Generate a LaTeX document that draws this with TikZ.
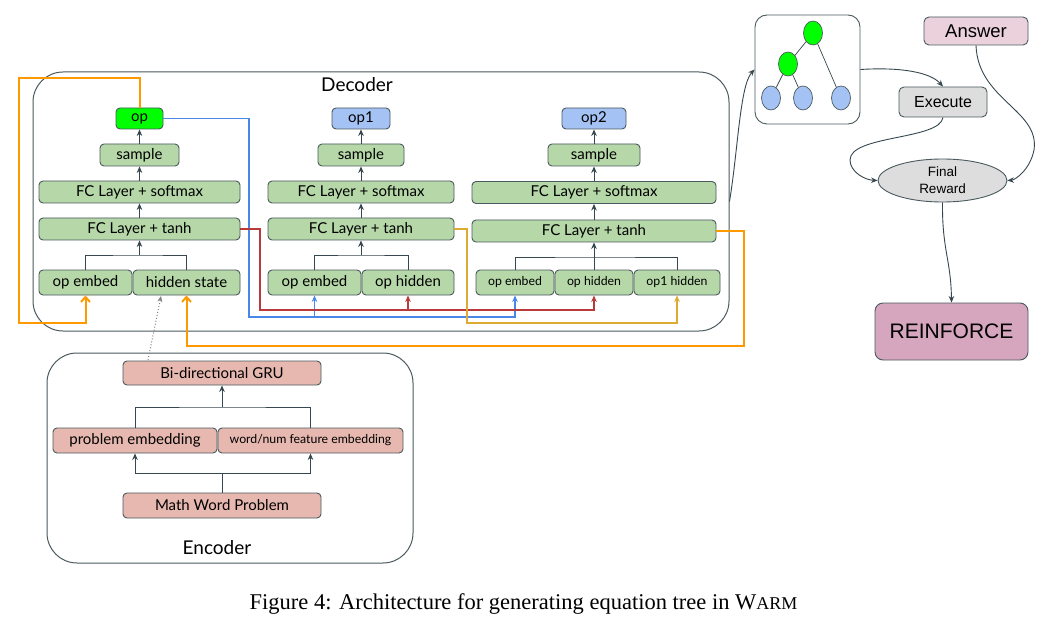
\documentclass[tikz,border=0pt]{standalone}
\usepackage{fontspec}
\setmainfont{Lato}
\newfontfamily\arialfont{Liberation Sans}
\newfontfamily\timesfont{Liberation Serif}
\usetikzlibrary{arrows.meta,shapes.geometric}

\definecolor{layergreen}{HTML}{B6D7A8}
\definecolor{encred}{HTML}{E6B8AF}
\definecolor{opblue}{HTML}{A4C2F4}
\definecolor{opgreen}{HTML}{00FF00}
\definecolor{edgec}{HTML}{4A5A5F}
\definecolor{arrowc}{HTML}{37474F}
\definecolor{lineorange}{HTML}{FF9900}
\definecolor{lineblue}{HTML}{4A86E8}
\definecolor{linered}{HTML}{B83A3A}
\definecolor{linegold}{HTML}{DDAA33}
\definecolor{answerpink}{HTML}{EAD1DC}
\definecolor{reinforcepink}{HTML}{D5A6BD}
\definecolor{execgray}{HTML}{DDDDDD}

\begin{document}
\begin{tikzpicture}[x=1pt, y=-1pt,
  sz/.style 2 args={minimum width=#1pt, minimum height=#2pt},
  layer/.style={draw=edgec, fill=layergreen, rounded corners=4pt, line width=0.9pt,
                inner sep=0pt, font=\fontsize{15}{17}\selectfont},
  small/.style={font=\fontsize{12.3}{14}\selectfont},
  enc/.style={layer, fill=encred},
  panel/.style={draw=edgec, rounded corners=30pt, line width=1pt},
  rbox/.style={draw=edgec, rounded corners=5pt, line width=0.9pt, inner sep=0pt,
               font=\arialfont\fontsize{16}{18}\selectfont},
  leaf/.style={draw=edgec, ellipse, line width=0.7pt, inner sep=0pt, sz={19}{24}},
  link/.style={draw=arrowc, line width=0.9pt},
  arr/.style={link, -{Stealth[length=6.5pt, width=5.5pt]}},
  bigarr/.style={draw=lineorange, line width=2pt, -{Straight Barb[length=5pt, width=9pt]}},
  thinarr/.style={line width=1.2pt, -{Stealth[length=6.5pt, width=5.5pt]}},
]
\path[fill=white, use as bounding box] (0,0) rectangle (1047,631);

% Decoder and encoder panels
\node[panel, sz={696}{259}] (dec) at (381,201.5) {};
\node[font=\fontsize{19}{21}\selectfont] (declbl) at (357,85) {Decoder};
\node[panel, sz={366}{210}] (encp) at (230,458) {};
\node[font=\fontsize{19}{21}\selectfont] (enclbl) at (217,548) {Encoder};

% decoder step 1
\node[layer, fill=opgreen, sz={47}{21}] (op) at (139.5,118.5) {op};
\node[layer, sz={79}{22}] (samp1) at (139.5,155) {sample};
\node[layer, sz={201}{22}] (fcs1) at (139.5,192) {FC Layer + softmax};
\node[layer, sz={201}{22}] (fct1) at (139.5,229) {FC Layer + tanh};
\node[layer, sz={93}{25}] (emb1) at (85.5,282.5) {op embed};
\node[layer, sz={107}{25}] (hid1) at (186.5,282.5) {hidden state};

% decoder step 2
\node[layer, fill=opblue, sz={58}{21}] (op1) at (361,118.5) {op1};
\node[layer, sz={86}{22}] (samp2) at (361,155) {sample};
\node[layer, sz={186}{22}] (fcs2) at (361,192) {FC Layer + softmax};
\node[layer, sz={186}{22}] (fct2) at (361,229) {FC Layer + tanh};
\node[layer, sz={93}{25}] (emb2) at (314.5,282.5) {op embed};
\node[layer, sz={92}{25}] (hid2) at (408,282.5) {op hidden};

% decoder step 3
\node[layer, fill=opblue, sz={64}{21}] (op2) at (594,118.5) {op2};
\node[layer, sz={92}{22}] (samp3) at (594,155) {sample};
\node[layer, sz={244}{22}] (fcs3) at (594,192.5) {FC Layer + softmax};
\node[layer, sz={244}{22}] (fct3) at (594,231) {FC Layer + tanh};
\node[layer, small, sz={78}{25}] (emb3) at (515,282.5) {op embed};
\node[layer, small, sz={78}{25}] (hid3) at (594,282.5) {op hidden};
\node[layer, small, sz={86}{25}] (h1hid3) at (677,282.5) {op1 hidden};

% stacks
\foreach \c in {1,2,3}{
  \draw[arr] (fct\c) -- (fcs\c);
  \draw[arr] (fcs\c) -- (samp\c);
}
\draw[arr] (samp1) -- (op);
\draw[arr] (samp2) -- (op1);
\draw[arr] (samp3) -- (op2);

\coordinate (j1) at (139.5,255);
\coordinate (j2) at (361,255);
\coordinate (j3) at (594,257);
\draw[link] (emb1.north) |- (j1) -| (hid1.north);
\draw[arr] (j1) -- (fct1.south);
\draw[link] (emb2.north) |- (j2) -| (hid2.north);
\draw[arr] (j2) -- (fct2.south);
\draw[link] (emb3.north) |- (j3) -| (h1hid3.north);
\draw[arr] (hid3.north) -- (fct3.south);

% feedback lines
\coordinate (bl) at (249,317);
\coordinate (rd) at (260,310);
\draw[lineblue, thinarr] (op.east) -| (bl) -| (emb3.south);
\draw[lineblue, thinarr] (emb2.south |- bl) -- (emb2.south);
\draw[linered, thinarr] (fct1.east) -| (rd) -| (hid3.south);
\draw[linered, thinarr] (hid2.south |- rd) -- (hid2.south);
\draw[linegold, thinarr] (fct2.east) -| (467,323) -| (h1hid3.south);
\draw[bigarr] (op.north) |- (19,78) -- (19,323) -| (emb1.south);
\draw[bigarr] (fct3.east) -| (744,346) -| (hid1.south);

% encoder
\node[enc, sz={198}{24}] (gru) at (222,373) {Bi-directional GRU};
\node[enc, sz={164}{25}] (pemb) at (135,440.5) {problem embedding};
\node[enc, small, sz={185}{25}] (wemb) at (310.5,440.5) {word/num feature embedding};
\node[enc, sz={198}{25}] (mwp) at (222,505.5) {Math Word Problem};

\coordinate (es) at (222,473);
\coordinate (ej) at (222,407);
\draw[link] (mwp.north) -- (es);
\draw[arr] (es) -| (pemb.south);
\draw[arr] (es) -| (wemb.south);
\draw[link] (pemb.north) |- (ej) -| (wemb.north);
\draw[arr] (ej) -- (gru.south);

\coordinate (gtop) at (148,360);
\coordinate (hs) at (161,296);
\draw[gray, dotted, line width=1pt, -{Stealth[length=6pt, width=5pt]}] (gtop) -- (hs);

% equation tree
\node[draw=edgec, rounded corners=12pt, line width=0.9pt, sz={105}{109}] (tree) at (807.5,69.5) {};
\node[leaf, fill=opgreen] (t0) at (813,33) {};
\node[leaf, fill=opgreen] (t1) at (788,64) {};
\node[leaf, fill=opblue] (t2) at (771,98) {};
\node[leaf, fill=opblue] (t3) at (803,98) {};
\node[leaf, fill=opblue] (t4) at (841,98) {};
\draw[link, line width=0.7pt] (t0) -- (t1);
\draw[link, line width=0.7pt] (t0) -- (t4);
\draw[link, line width=0.7pt] (t1) -- (t2);
\draw[link, line width=0.7pt] (t1) -- (t3);

% reward side
\node[rbox, fill=answerpink, sz={104}{28}, font=\arialfont\fontsize{18.5}{20}\selectfont] (ans) at (976,31) {Answer};
\node[rbox, fill=execgray, sz={88}{30}] (exec) at (943,102) {Execute};
\node[draw=edgec, fill=execgray, ellipse, line width=0.9pt, inner sep=0pt, sz={129}{43},
      align=center, font=\arialfont\fontsize{13.5}{17}\selectfont] (rew) at (942.5,180.5) {Final\\Reward};
\node[rbox, fill=reinforcepink, rounded corners=8pt, sz={153}{57},
      font=\arialfont\fontsize{21}{23}\selectfont] (rein) at (951.5,331.5) {REINFORCE};

\draw[arr] (dec.east) .. controls (738,150) and (740,85) .. (tree.west);
\draw[arr] (tree.east) .. controls (900,67) and (930,72) .. (exec.north);
\draw[arr] (exec.south) .. controls (940,140) and (850,135) .. (850,160)
  .. controls (850,172) and (865,180) .. (rew.west);
\draw[arr] (ans.south) .. controls (978,100) and (1040,110) .. (1034,150)
  .. controls (1030,170) and (1015,180) .. (rew.east);
\draw[arr] (rew.south) .. controls (942,250) and (951,260) .. (rein.north);

% caption
\node[font=\timesfont\fontsize{22.5}{26}\selectfont] (cap) at (523.5,604)
  {Figure 4: Architecture for generating equation tree in W{\fontsize{18}{20}\selectfont ARM}};
\end{tikzpicture}
\end{document}
